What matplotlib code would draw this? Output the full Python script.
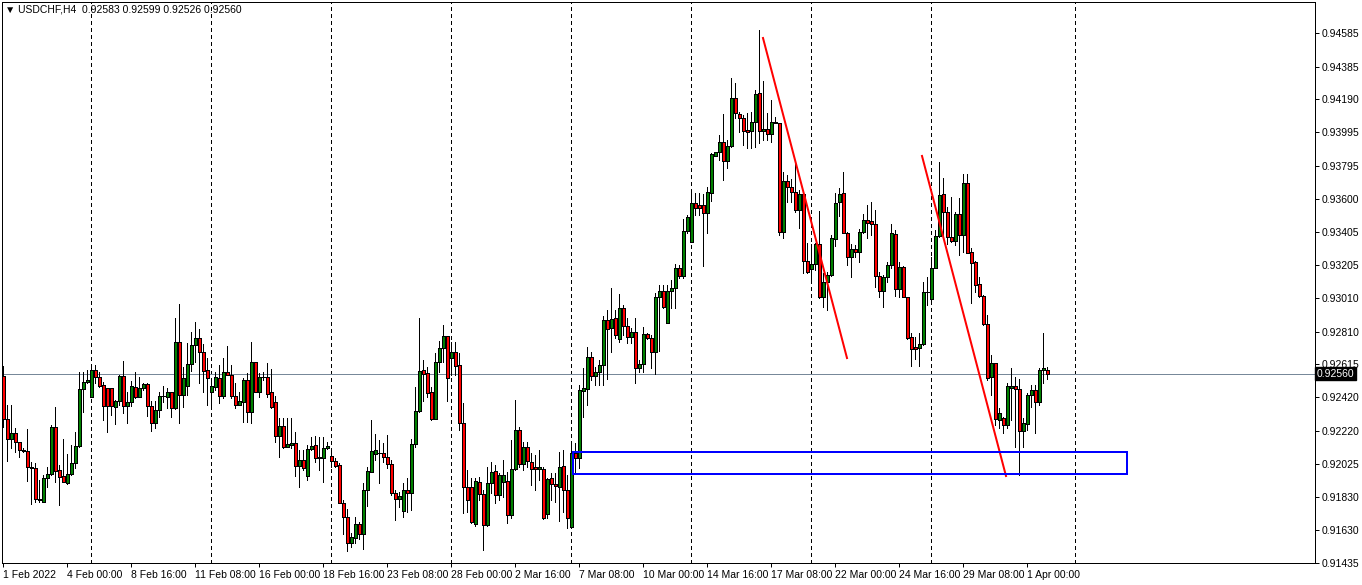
import matplotlib
matplotlib.use("Agg")
import matplotlib.pyplot as plt
from matplotlib.patches import Rectangle
from matplotlib.transforms import blended_transform_factory

plt.rcParams["font.family"] = ["Liberation Sans", "DejaVu Sans"]

# USDCHF H4 candles, 1 Feb 2022 08:00 -> 1 Apr 2022
opens = [
    0.92546, 0.92292, 0.92173, 0.92208, 0.92154, 0.92107, 0.92101, 0.92005, 0.91999, 0.91816,
    0.91798, 0.91940, 0.91964, 0.92243, 0.91988, 0.91952, 0.91911, 0.91964, 0.92029, 0.92130,
    0.92470, 0.92511, 0.92421, 0.92582, 0.92540, 0.92493, 0.92475, 0.92475, 0.92362, 0.92398,
    0.92546, 0.92368, 0.92392, 0.92481, 0.92421, 0.92475, 0.92499, 0.92368, 0.92267, 0.92345,
    0.92427, 0.92421, 0.92451, 0.92356, 0.92748, 0.92433, 0.92487, 0.92617, 0.92730, 0.92772,
    0.92689, 0.92582, 0.92451, 0.92481, 0.92535, 0.92427, 0.92570, 0.92552, 0.92427, 0.92374,
    0.92392, 0.92523, 0.92333, 0.92629, 0.92451, 0.92540, 0.92540, 0.92451, 0.92392, 0.92190,
    0.92249, 0.92124, 0.92136, 0.92148, 0.92011, 0.92047, 0.91952, 0.92112, 0.92136, 0.92059,
    0.92059, 0.92118, 0.92071, 0.92041, 0.92017, 0.91792, 0.91709, 0.91554, 0.91584, 0.91667,
    0.91608, 0.91869, 0.91976, 0.92083, 0.92089, 0.92089, 0.92065, 0.92023, 0.91851, 0.91816,
    0.91745, 0.91869, 0.91851, 0.92142, 0.92339, 0.92582, 0.92564, 0.92451, 0.92291, 0.92629,
    0.92713, 0.92784, 0.92653, 0.92689, 0.92611, 0.92267, 0.91887, 0.91887, 0.91667, 0.91917,
    0.91845, 0.91661, 0.91911, 0.91982, 0.91839, 0.91917, 0.91923, 0.91721, 0.91994, 0.92226,
    0.92023, 0.92124, 0.92035, 0.92005, 0.91994, 0.91994, 0.91727, 0.91940, 0.91905, 0.91887,
    0.92011, 0.91869, 0.91649, 0.92089, 0.92059, 0.92457, 0.92469, 0.92659, 0.92546, 0.92570,
    0.92611, 0.92879, 0.92832, 0.92891, 0.92766, 0.92951, 0.92844, 0.92778, 0.92808, 0.92594,
    0.92617, 0.92796, 0.92772, 0.92689, 0.93016, 0.93052, 0.92861, 0.93052, 0.93069, 0.93188,
    0.93141, 0.93408, 0.93343, 0.93574, 0.93562, 0.93562, 0.93515, 0.93634, 0.93854, 0.93878,
    0.93937, 0.93824, 0.93913, 0.94199, 0.94104, 0.94080, 0.94008, 0.94002, 0.94056, 0.94228,
    0.94002, 0.94014, 0.93984, 0.94056, 0.94050, 0.93402, 0.93705, 0.93670, 0.93640, 0.93533,
    0.93628, 0.93230, 0.93182, 0.93212, 0.93331, 0.93016, 0.93105, 0.93147, 0.93361, 0.93580,
    0.93634, 0.93396, 0.93254, 0.93301, 0.93283, 0.93402, 0.93474, 0.93468, 0.93450, 0.93141,
    0.93052, 0.93135, 0.93206, 0.93390, 0.93064, 0.93194, 0.93016, 0.92778, 0.92719, 0.92713,
    0.92736, 0.93046, 0.93004, 0.93188, 0.93378, 0.93628, 0.93521, 0.93372, 0.93349, 0.93509,
    0.93384, 0.93693, 0.93283, 0.93224, 0.93093, 0.93022, 0.92855, 0.92540, 0.92623, 0.92285,
    0.92297, 0.92255, 0.92475, 0.92487, 0.92469, 0.92220, 0.92261, 0.92433, 0.92463, 0.92392,
    0.92582, 0.92583,
]
highs = [
    0.92605, 0.92374, 0.92374, 0.92237, 0.92154, 0.92118, 0.92232, 0.92035, 0.92029, 0.91929,
    0.91958, 0.92005, 0.92255, 0.92362, 0.92017, 0.92173, 0.92083, 0.92136, 0.92214, 0.92570,
    0.92570, 0.92582, 0.92600, 0.92611, 0.92570, 0.92511, 0.92475, 0.92475, 0.92404, 0.92552,
    0.92635, 0.92451, 0.92517, 0.92570, 0.92540, 0.92505, 0.92505, 0.92398, 0.92398, 0.92451,
    0.92487, 0.92475, 0.92451, 0.92891, 0.92974, 0.92600, 0.92742, 0.92808, 0.92867, 0.92826,
    0.92736, 0.92653, 0.92535, 0.92570, 0.92611, 0.92653, 0.92724, 0.92611, 0.92505, 0.92451,
    0.92535, 0.92564, 0.92748, 0.92629, 0.92564, 0.92570, 0.92623, 0.92588, 0.92427, 0.92297,
    0.92297, 0.92297, 0.92297, 0.92214, 0.92107, 0.92107, 0.92136, 0.92184, 0.92190, 0.92184,
    0.92184, 0.92154, 0.92107, 0.92059, 0.92029, 0.91810, 0.91757, 0.91614, 0.91709, 0.91679,
    0.91911, 0.92005, 0.92285, 0.92202, 0.92166, 0.92148, 0.92196, 0.92047, 0.91869, 0.91857,
    0.91911, 0.91940, 0.92173, 0.92481, 0.92891, 0.92641, 0.92600, 0.92481, 0.92683, 0.92754,
    0.92850, 0.92784, 0.92748, 0.92748, 0.92683, 0.92386, 0.91988, 0.91940, 0.91940, 0.91946,
    0.91869, 0.92005, 0.92035, 0.92017, 0.91970, 0.92047, 0.91976, 0.92166, 0.92404, 0.92243,
    0.92154, 0.92154, 0.92089, 0.92077, 0.92107, 0.92005, 0.91940, 0.91970, 0.91970, 0.92095,
    0.92107, 0.91958, 0.92160, 0.92148, 0.92493, 0.92594, 0.92719, 0.92689, 0.92600, 0.92641,
    0.92903, 0.92939, 0.93069, 0.92939, 0.93034, 0.92968, 0.92891, 0.92832, 0.92891, 0.92641,
    0.92838, 0.92802, 0.92790, 0.93040, 0.93087, 0.93087, 0.93087, 0.93117, 0.93212, 0.93206,
    0.93480, 0.93503, 0.93640, 0.93634, 0.93634, 0.93628, 0.93670, 0.93872, 0.93878, 0.93979,
    0.94104, 0.93949, 0.94317, 0.94288, 0.94116, 0.94098, 0.94110, 0.94116, 0.94246, 0.94603,
    0.94300, 0.94110, 0.94187, 0.94086, 0.94050, 0.93759, 0.93741, 0.93717, 0.93830, 0.93652,
    0.93640, 0.93337, 0.93331, 0.93337, 0.93527, 0.93159, 0.93165, 0.93384, 0.93634, 0.93664,
    0.93759, 0.93402, 0.93331, 0.93325, 0.93420, 0.93509, 0.93562, 0.93580, 0.93533, 0.93165,
    0.93147, 0.93224, 0.93450, 0.93414, 0.93224, 0.93200, 0.93016, 0.92802, 0.92778, 0.92802,
    0.93105, 0.93135, 0.93254, 0.93414, 0.93818, 0.93723, 0.93551, 0.93610, 0.93521, 0.93604,
    0.93747, 0.93747, 0.93307, 0.93230, 0.93135, 0.93028, 0.92909, 0.92671, 0.92623, 0.92356,
    0.92303, 0.92505, 0.92594, 0.92540, 0.92529, 0.92297, 0.92445, 0.92493, 0.92493, 0.92594,
    0.92802, 0.92599,
]
lows = [
    0.92243, 0.92041, 0.92118, 0.92095, 0.92065, 0.92095, 0.91923, 0.91786, 0.91798, 0.91798,
    0.91798, 0.91887, 0.91958, 0.91917, 0.91780, 0.91917, 0.91905, 0.91958, 0.91999, 0.92124,
    0.92333, 0.92505, 0.92421, 0.92505, 0.92481, 0.92285, 0.92214, 0.92315, 0.92261, 0.92374,
    0.92327, 0.92267, 0.92368, 0.92416, 0.92421, 0.92463, 0.92309, 0.92220, 0.92237, 0.92303,
    0.92392, 0.92356, 0.92303, 0.92351, 0.92267, 0.92362, 0.92433, 0.92576, 0.92629, 0.92505,
    0.92451, 0.92374, 0.92374, 0.92463, 0.92386, 0.92416, 0.92552, 0.92416, 0.92356, 0.92374,
    0.92273, 0.92273, 0.92267, 0.92451, 0.92421, 0.92523, 0.92421, 0.92356, 0.92154, 0.92065,
    0.92118, 0.92124, 0.92118, 0.91952, 0.91887, 0.91988, 0.91929, 0.92107, 0.92035, 0.91988,
    0.91917, 0.92112, 0.92005, 0.92005, 0.91792, 0.91608, 0.91507, 0.91530, 0.91554, 0.91578,
    0.91519, 0.91774, 0.91976, 0.92047, 0.91911, 0.92035, 0.91999, 0.91839, 0.91691, 0.91768,
    0.91709, 0.91739, 0.91751, 0.92124, 0.92333, 0.92398, 0.92421, 0.92285, 0.92291, 0.92570,
    0.92629, 0.92398, 0.92552, 0.92552, 0.92226, 0.91733, 0.91739, 0.91673, 0.91655, 0.91810,
    0.91513, 0.91655, 0.91851, 0.91792, 0.91810, 0.91828, 0.91673, 0.91703, 0.91988, 0.92005,
    0.91988, 0.92005, 0.91899, 0.91869, 0.91929, 0.91697, 0.91703, 0.91810, 0.91798, 0.91685,
    0.91739, 0.91643, 0.91643, 0.91976, 0.91999, 0.92303, 0.92374, 0.92523, 0.92493, 0.92493,
    0.92493, 0.92529, 0.92689, 0.92772, 0.92748, 0.92790, 0.92742, 0.92742, 0.92505, 0.92570,
    0.92570, 0.92766, 0.92594, 0.92558, 0.92695, 0.92951, 0.92861, 0.92951, 0.92951, 0.93129,
    0.93129, 0.93396, 0.93343, 0.93503, 0.93503, 0.93200, 0.93396, 0.93586, 0.93854, 0.93830,
    0.93711, 0.93783, 0.93907, 0.94080, 0.93996, 0.93919, 0.93902, 0.93902, 0.93907, 0.93931,
    0.93949, 0.93949, 0.93937, 0.94050, 0.93384, 0.93367, 0.93580, 0.93580, 0.93521, 0.93426,
    0.93159, 0.93159, 0.93117, 0.93176, 0.93010, 0.92957, 0.92939, 0.93141, 0.93319, 0.93497,
    0.93396, 0.93206, 0.93135, 0.93254, 0.93224, 0.93396, 0.93367, 0.93384, 0.93075, 0.93016,
    0.92957, 0.93105, 0.93188, 0.93022, 0.93016, 0.93016, 0.92766, 0.92605, 0.92647, 0.92605,
    0.92730, 0.92968, 0.92998, 0.93188, 0.93372, 0.93372, 0.93331, 0.93343, 0.93325, 0.93266,
    0.93283, 0.93277, 0.92980, 0.93046, 0.93016, 0.92850, 0.92523, 0.92433, 0.92255, 0.92237,
    0.92208, 0.92237, 0.92285, 0.92124, 0.91958, 0.92124, 0.92226, 0.92362, 0.92208, 0.92374,
    0.92505, 0.92526,
]
closes = [
    0.92292, 0.92173, 0.92208, 0.92154, 0.92107, 0.92101, 0.92005, 0.91999, 0.91816, 0.91810,
    0.91940, 0.91964, 0.92243, 0.91982, 0.91946, 0.91917, 0.91964, 0.92029, 0.92130, 0.92470,
    0.92511, 0.92523, 0.92582, 0.92540, 0.92487, 0.92368, 0.92368, 0.92368, 0.92398, 0.92546,
    0.92368, 0.92392, 0.92487, 0.92421, 0.92475, 0.92499, 0.92368, 0.92267, 0.92345, 0.92427,
    0.92427, 0.92451, 0.92356, 0.92748, 0.92433, 0.92535, 0.92617, 0.92730, 0.92772, 0.92689,
    0.92576, 0.92535, 0.92487, 0.92540, 0.92427, 0.92570, 0.92552, 0.92427, 0.92374, 0.92398,
    0.92523, 0.92333, 0.92629, 0.92451, 0.92540, 0.92540, 0.92439, 0.92362, 0.92190, 0.92249,
    0.92124, 0.92142, 0.92148, 0.92011, 0.92047, 0.91999, 0.92112, 0.92130, 0.92059, 0.92065,
    0.92118, 0.92130, 0.92041, 0.92011, 0.91792, 0.91709, 0.91554, 0.91590, 0.91667, 0.91608,
    0.91869, 0.91982, 0.92101, 0.92107, 0.92089, 0.92065, 0.92023, 0.91851, 0.91816, 0.91834,
    0.91869, 0.91851, 0.92142, 0.92339, 0.92576, 0.92558, 0.92445, 0.92291, 0.92629, 0.92713,
    0.92784, 0.92535, 0.92689, 0.92605, 0.92267, 0.91887, 0.91810, 0.91679, 0.91923, 0.91845,
    0.91661, 0.91911, 0.91976, 0.91839, 0.91958, 0.91958, 0.91721, 0.91994, 0.92226, 0.92023,
    0.92124, 0.92041, 0.91994, 0.91994, 0.92005, 0.91703, 0.91935, 0.91905, 0.91893, 0.92005,
    0.91869, 0.91703, 0.92089, 0.92059, 0.92463, 0.92475, 0.92659, 0.92546, 0.92570, 0.92611,
    0.92879, 0.92826, 0.92885, 0.92790, 0.92951, 0.92844, 0.92778, 0.92808, 0.92594, 0.92617,
    0.92796, 0.92772, 0.92689, 0.93016, 0.93052, 0.92957, 0.93052, 0.93069, 0.93188, 0.93141,
    0.93408, 0.93492, 0.93574, 0.93545, 0.93545, 0.93515, 0.93640, 0.93866, 0.93878, 0.93937,
    0.93824, 0.93913, 0.94199, 0.94109, 0.94080, 0.94002, 0.93996, 0.94056, 0.94222, 0.94002,
    0.94014, 0.93984, 0.94056, 0.94050, 0.93402, 0.93705, 0.93670, 0.93640, 0.93533, 0.93628,
    0.93230, 0.93165, 0.93212, 0.93331, 0.93016, 0.93105, 0.93147, 0.93367, 0.93574, 0.93628,
    0.93396, 0.93254, 0.93301, 0.93283, 0.93402, 0.93474, 0.93456, 0.93450, 0.93141, 0.93052,
    0.93135, 0.93206, 0.93396, 0.93064, 0.93194, 0.93016, 0.92772, 0.92707, 0.92707, 0.92736,
    0.93046, 0.93046, 0.93188, 0.93378, 0.93622, 0.93521, 0.93372, 0.93349, 0.93509, 0.93384,
    0.93693, 0.93277, 0.93218, 0.93087, 0.93022, 0.92855, 0.92535, 0.92623, 0.92291, 0.92327,
    0.92255, 0.92487, 0.92487, 0.92469, 0.92220, 0.92267, 0.92433, 0.92463, 0.92392, 0.92582,
    0.92594, 0.92560,
]

# time axis labels (bar index -> label)
tick_idx = [0, 16, 32, 48, 64, 80, 96, 112, 128, 144, 160, 176, 192, 208, 224, 240, 256]
tick_labels = ["1 Feb 2022", "4 Feb 00:00", "8 Feb 16:00", "11 Feb 08:00", "16 Feb 00:00",
               "18 Feb 16:00", "23 Feb 08:00", "28 Feb 00:00", "2 Mar 16:00", "7 Mar 08:00",
               "10 Mar 00:00", "14 Mar 16:00", "17 Mar 08:00", "22 Mar 00:00", "24 Mar 16:00",
               "29 Mar 08:00", "1 Apr 00:00"]
grid_idx = [22, 52, 82, 112, 142, 172, 202, 232, 268]
price_ticks = [0.94585, 0.94385, 0.94190, 0.93995, 0.93795, 0.93600, 0.93405, 0.93205, 0.93010,
               0.92810, 0.92615, 0.92420, 0.92220, 0.92025, 0.91830, 0.91630, 0.91435]

# drawn objects
trend1_idx, trend1_px = [190, 211], [0.94555, 0.92653]
trend2_idx, trend2_px = [229.75, 250.75], [0.93854, 0.91952]
zone_idx = [142.5, 281]
zone_px = [0.91964, 0.92095]
last_price = 0.92560

W, H = 1362, 585
fig = plt.figure(figsize=(W / 100, H / 100), dpi=100)
fig.patch.set_facecolor("white")
ax = fig.add_axes([2 / W, 22 / H, 1313 / W, 561 / H])
ax.set_xlim(-0.25, 328)
ax.set_ylim(0.91435, 0.94769)

px = 0.72  # one pixel in points
for i in grid_idx:
    ax.axvline(i, color="black", lw=px, ls=(0, (4, 4)), zorder=1, antialiased=False)

ax.axhline(last_price, color="#778899", lw=px, zorder=1, antialiased=False)

xs = list(range(len(opens)))
ax.vlines(xs, lows, highs, color="black", lw=px, zorder=2, antialiased=False)
bottoms = [min(o, c) for o, c in zip(opens, closes)]
heights = [max(abs(c - o), 0.000015) for o, c in zip(opens, closes)]
colors = ["#008000" if c > o else ("#ff0000" if c < o else "black") for o, c in zip(opens, closes)]
ax.bar(xs, heights, bottom=bottoms, width=0.75, color=colors, edgecolor="black",
       linewidth=px, zorder=3, antialiased=False)

ax.plot(trend1_idx, trend1_px, color="red", lw=2 * px, zorder=4)
ax.plot(trend2_idx, trend2_px, color="red", lw=2 * px, zorder=4)
ax.add_patch(Rectangle((zone_idx[0], zone_px[0]), zone_idx[1] - zone_idx[0], zone_px[1] - zone_px[0],
                       fill=False, edgecolor="#0000ff", lw=2 * px, zorder=4))

for s in ax.spines.values():
    s.set_color("black")
    s.set_linewidth(px)

ax.yaxis.tick_right()
ax.set_yticks(price_ticks)
ax.set_yticklabels([f"{p:.5f}" for p in price_ticks])
ax.tick_params(axis="y", length=3, width=px, pad=2, labelsize=7.5, colors="black")
ax.set_xticks(tick_idx)
ax.set_xticklabels(tick_labels, ha="left")
ax.tick_params(axis="x", length=3, width=px, pad=2, labelsize=7.5, colors="black")

tr = blended_transform_factory(ax.transAxes, ax.transData)
ax.text(1.0015, last_price, "0.92560", transform=tr, fontsize=7.5, color="white", va="center",
        ha="left", zorder=6, clip_on=False,
        bbox=dict(boxstyle="square,pad=0.15", facecolor="black", edgecolor="black"))

fig.text(5 / W, 1 - 10 / H, "\u25bc USDCHF,H4  0.92583 0.92599 0.92526 0.92560", fontsize=7.5,
         va="center", ha="left")

fig.savefig("out.png", dpi=100, facecolor="white")
